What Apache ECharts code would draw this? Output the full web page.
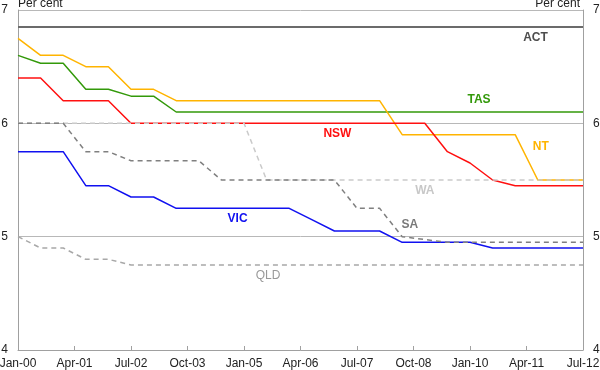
<!DOCTYPE html>
<html><head><meta charset="utf-8">
<script src="https://cdn.jsdelivr.net/npm/echarts@6/dist/echarts.min.js"></script>
<style>html,body{margin:0;padding:0;background:#fff}#c{width:600px;height:370px}</style>
</head><body><div id="c"></div>
<script>
// Half-yearly observation dates
const periods = ['Jan-00','Jul-00','Jan-01','Jul-01','Jan-02','Jul-02','Jan-03','Jul-03','Jan-04','Jul-04','Jan-05','Jul-05','Jan-06','Jul-06','Jan-07','Jul-07','Jan-08','Jul-08','Jan-09','Jul-09','Jan-10','Jul-10','Jan-11','Jul-11','Jan-12','Jul-12'];
const tickLabels = ['Jan-00','Apr-01','Jul-02','Oct-03','Jan-05','Apr-06','Jul-07','Oct-08','Jan-10','Apr-11','Jul-12'];
const yTicks = [4,5,6,7];

const ACT = [6.85,6.85,6.85,6.85,6.85,6.85,6.85,6.85,6.85,6.85,6.85,6.85,6.85,6.85,6.85,6.85,6.85,6.85,6.85,6.85,6.85,6.85,6.85,6.85,6.85,6.85];
const TAS = [6.6,6.53,6.53,6.3,6.3,6.24,6.24,6.1,6.1,6.1,6.1,6.1,6.1,6.1,6.1,6.1,6.1,6.1,6.1,6.1,6.1,6.1,6.1,6.1,6.1,6.1];
const NT  = [6.75,6.6,6.6,6.5,6.5,6.3,6.3,6.2,6.2,6.2,6.2,6.2,6.2,6.2,6.2,6.2,6.2,5.9,5.9,5.9,5.9,5.9,5.9,5.5,5.5,5.5];
const NSW = [6.4,6.4,6.2,6.2,6.2,6.0,6.0,6.0,6.0,6.0,6.0,6.0,6.0,6.0,6.0,6.0,6.0,6.0,6.0,5.75,5.65,5.5,5.45,5.45,5.45,5.45];
const VIC = [5.75,5.75,5.75,5.45,5.45,5.35,5.35,5.25,5.25,5.25,5.25,5.25,5.25,5.15,5.05,5.05,5.05,4.95,4.95,4.95,4.95,4.9,4.9,4.9,4.9,4.9];
const QLD = [5.0,4.9,4.9,4.8,4.8,4.75,4.75,4.75,4.75,4.75,4.75,4.75,4.75,4.75,4.75,4.75,4.75,4.75,4.75,4.75,4.75,4.75,4.75,4.75,4.75,4.75];
const WA  = [6.0,6.0,6.0,6.0,6.0,6.0,6.0,6.0,6.0,6.0,6.0,5.5,5.5,5.5,5.5,5.5,5.5,5.5,5.5,5.5,5.5,5.5,5.5,5.5,5.5,5.5];
const SA  = [6.0,6.0,6.0,5.75,5.75,5.67,5.67,5.67,5.67,5.5,5.5,5.5,5.5,5.5,5.5,5.25,5.25,5.0,4.975,4.95,4.95,4.95,4.95,4.95,4.95,4.95];

const monthNames = {Jan:0,Feb:1,Mar:2,Apr:3,May:4,Jun:5,Jul:6,Aug:7,Sep:8,Oct:9,Nov:10,Dec:11};
function monthIndex(s){ const [m,y]=s.split('-'); return (parseInt(y,10))*12 + monthNames[m]; }
const x0 = monthIndex(periods[0]);
const xs = periods.map(p => monthIndex(p) - x0);
const labelMap = {};
tickLabels.forEach(t => { labelMap[monthIndex(t) - x0] = t; });
const toPairs = arr => arr.map((v,i) => [xs[i], v]);

const seriesDefs = [
  {name:'ACT', data:ACT, color:'#6b6b6b', width:2, dash:'solid'},
  {name:'TAS', data:TAS, color:'#33990a', width:1.5, dash:'solid'},
  {name:'NT',  data:NT,  color:'#ffb400', width:1.5, dash:'solid'},
  {name:'NSW', data:NSW, color:'#ff1010', width:1.5, dash:'solid'},
  {name:'VIC', data:VIC, color:'#1010f0', width:1.5, dash:'solid'},
  {name:'QLD', data:QLD, color:'#a8a8a8', width:1.5, dash:[5,4]},
  {name:'WA',  data:WA,  color:'#cacaca', width:1.5, dash:[5,4]},
  {name:'SA',  data:SA,  color:'#808080', width:1.5, dash:[5,4]}
];

// Series label annotations (data coordinates: months since Jan-00, per cent)
const annotations = [
  {text:'ACT', x:137.4, y:6.754, color:'#4d4d4d', bold:true},
  {text:'TAS', x:122.4, y:6.208, color:'#33990a', bold:true},
  {text:'NSW', x:84.8,  y:5.913, color:'#ff1010', bold:true},
  {text:'NT',  x:138.8, y:5.795, color:'#ffb400', bold:true},
  {text:'WA',  x:108,   y:5.405, color:'#c8c8c8', bold:true},
  {text:'SA',  x:104,   y:5.11,  color:'#7a7a7a', bold:true},
  {text:'VIC', x:58.3,  y:5.161, color:'#1010f0', bold:true},
  {text:'QLD', x:66.4,  y:4.653, color:'#999999', bold:false}
];

const FONT = 'Liberation Sans, Arial, sans-serif';
const chart = echarts.init(document.getElementById('c'), null, {renderer:'canvas'});
const yAxisBase = {
  type:'value', min:yTicks[0], max:yTicks[yTicks.length-1], interval:1,
  axisLine:{show:true, lineStyle:{color:'#a0a0a0', width:1}},
  axisTick:{show:false},
  axisLabel:{color:'#222', fontSize:12, fontFamily:FONT, margin:10},
  name:'Per cent', nameLocation:'end', nameGap:6
};
chart.setOption({
  animation:false,
  backgroundColor:'#fff',
  grid:{left:18, right:17, top:10, bottom:20, containLabel:false, outerBoundsMode:'none'},
  xAxis:{
    type:'value', min:0, max:150, interval:15,
    axisLine:{show:true, lineStyle:{color:'#a0a0a0'}},
    axisTick:{show:true, inside:true, length:4, lineStyle:{color:'#a0a0a0'}},
    splitLine:{show:false},
    axisLabel:{color:'#222', fontSize:12, fontFamily:FONT, margin:8,
      formatter: v => labelMap[v] || ''}
  },
  yAxis:[
    Object.assign({}, yAxisBase, {position:'left',
      splitLine:{show:true, lineStyle:{color:'#b8b8b8', width:1}},
      nameTextStyle:{color:'#222', fontSize:12, fontFamily:FONT, align:'left', verticalAlign:'middle'}}),
    Object.assign({}, yAxisBase, {position:'right',
      splitLine:{show:false},
      nameTextStyle:{color:'#222', fontSize:12, fontFamily:FONT, align:'right', verticalAlign:'middle', padding:[0,3,0,0]}})
  ],
  series: seriesDefs.map(s => ({
    name:s.name, type:'line', data:toPairs(s.data), yAxisIndex:0,
    showSymbol:false, symbol:'none', smooth:false, silent:true,
    lineStyle:{color:s.color, width:s.width, type:s.dash}
  }))
});

const g = annotations.map(a => {
  const p = chart.convertToPixel({gridIndex:0}, [a.x, a.y]);
  return {type:'text', x:p[0], y:p[1], silent:true,
    style:{text:a.text, fill:a.color, font:(a.bold?'bold ':'')+'12px '+FONT, textAlign:'center', textVerticalAlign:'middle'}};
});
chart.setOption({graphic:g});
</script></body></html>
